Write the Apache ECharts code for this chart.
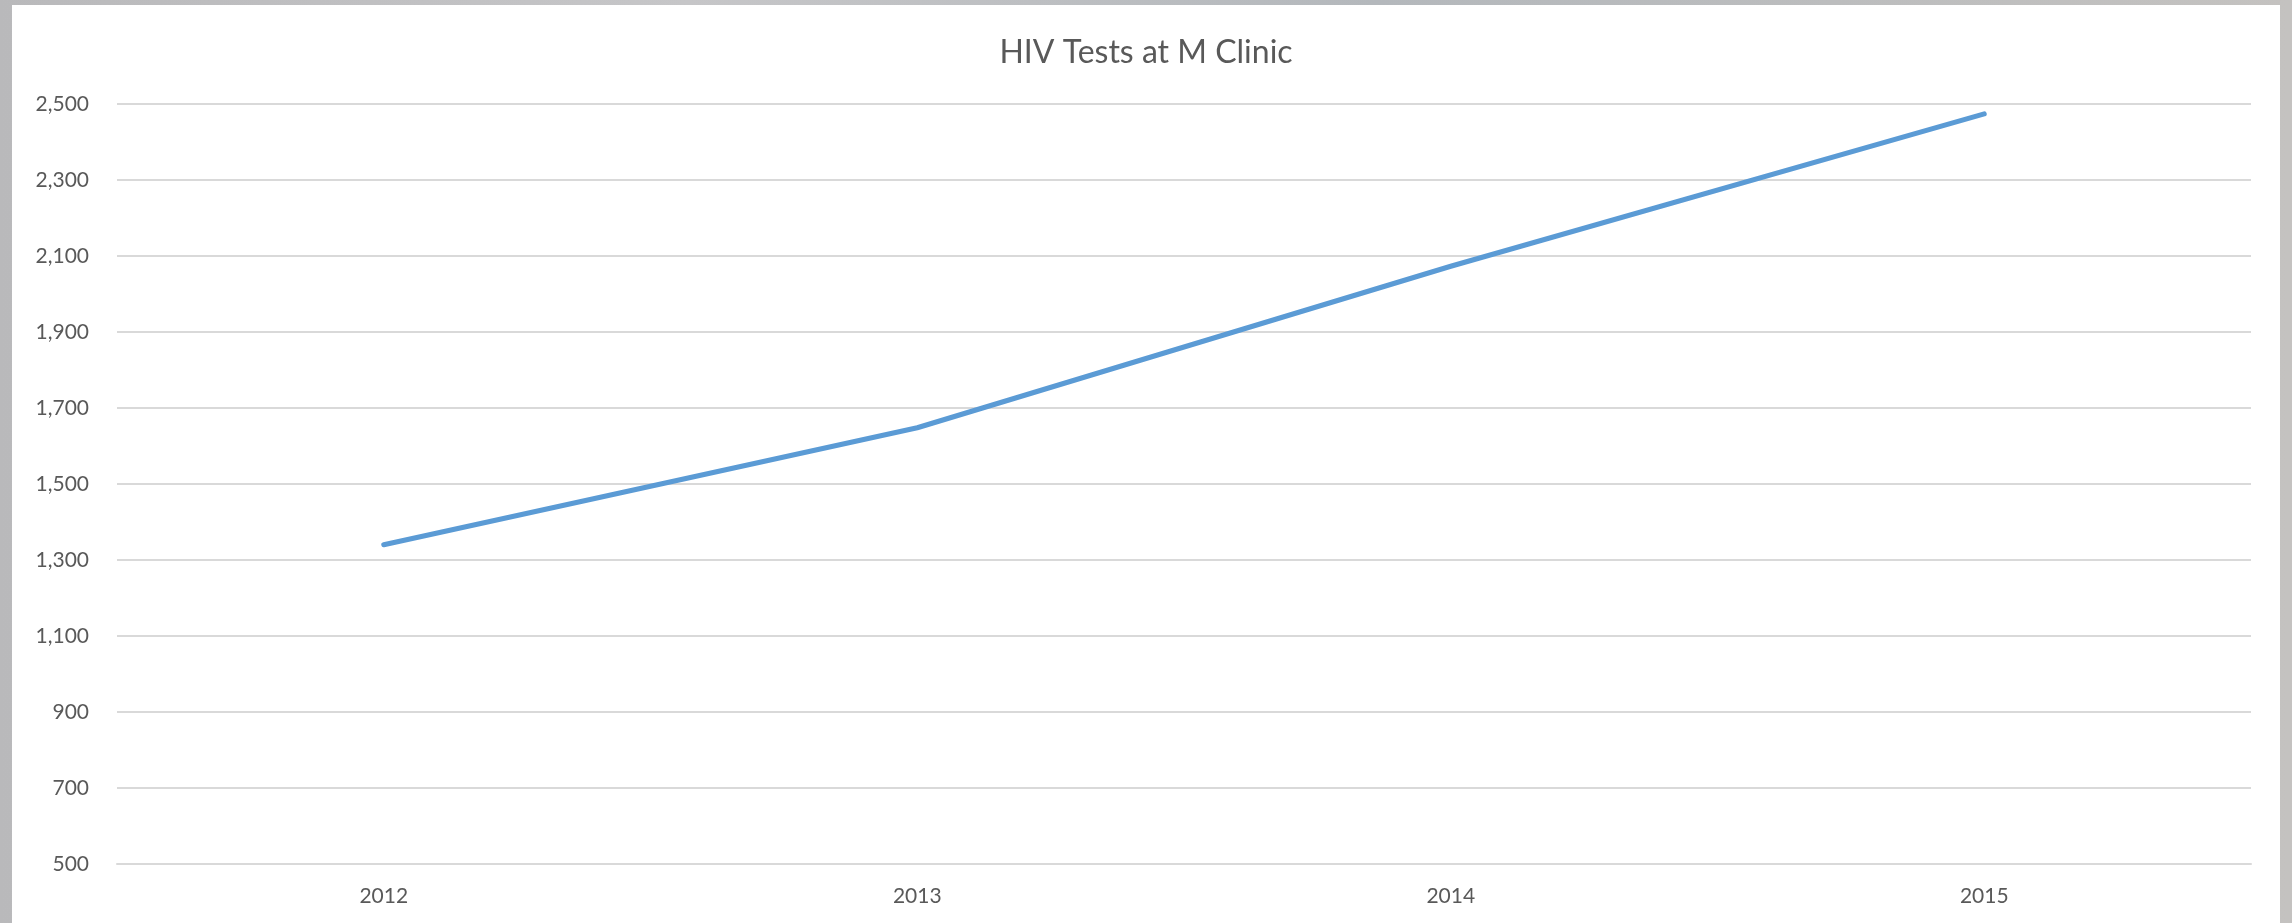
<!DOCTYPE html>
<html>
<head>
<meta charset="utf-8">
<script src="https://cdn.jsdelivr.net/npm/echarts@6/dist/echarts.min.js"></script>
<style>
html, body { margin: 0; padding: 0; width: 2292px; height: 923px; overflow: hidden;
  background: linear-gradient(90deg, #b9b9bb 0%, #c6c6c8 30%, #b4b8bc 60%, #c4c2c0 100%); }
#chart { position: absolute; left: 12px; top: 5px; width: 2268px; height: 918px; background: #ffffff; }
</style>
</head>
<body>
<div id="chart"></div>
<script>
const title = "HIV Tests at M Clinic";
const years = ["2012", "2013", "2014", "2015"];
const tests = [1340, 1648, 2073, 2474];
const yMin = 500, yMax = 2500, yStep = 200;

const chart = echarts.init(document.getElementById('chart'), null, { renderer: 'canvas' });
const font = 'Lato, "Open Sans", sans-serif';
chart.setOption({
  animation: false,
  backgroundColor: '#ffffff',
  title: {
    text: title,
    left: 'center',
    top: 27,
    textStyle: { fontFamily: font, fontSize: 32, fontWeight: 'normal', color: '#595959' }
  },
  grid: { left: 105, right: 29, top: 99, bottom: 59, containLabel: false },
  xAxis: {
    type: 'category',
    data: years,
    boundaryGap: true,
    axisLine: { show: true, lineStyle: { color: '#d9d9d9', width: 2 } },
    axisTick: { show: false },
    axisLabel: { margin: 22, fontFamily: font, fontSize: 21, color: '#595959' }
  },
  yAxis: {
    type: 'value',
    min: yMin, max: yMax, interval: yStep,
    axisLine: { show: false },
    axisTick: { show: false },
    splitLine: { lineStyle: { color: '#d9d9d9', width: 2 } },
    axisLabel: {
      margin: 28, fontFamily: font, fontSize: 21, color: '#595959',
      formatter: v => v.toLocaleString('en-US')
    }
  },
  series: [{
    type: 'line',
    data: tests,
    symbol: 'none',
    lineStyle: { color: '#5b9bd5', width: 5, cap: 'round', join: 'round' }
  }]
});
</script>
</body>
</html>
